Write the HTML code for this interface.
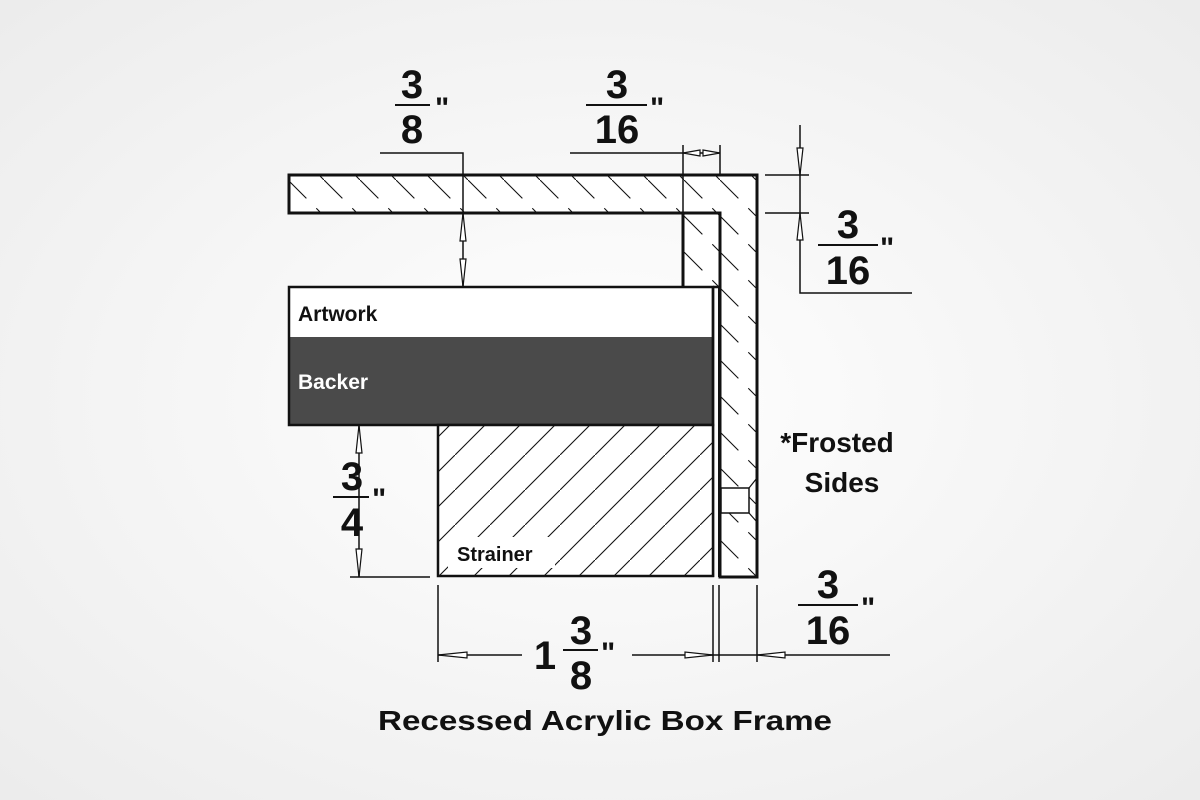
<!DOCTYPE html>
<html><head><meta charset="utf-8"><style>
html,body{margin:0;padding:0;width:1200px;height:800px;overflow:hidden;background:#f6f6f6}
svg{display:block}
text{font-family:"Liberation Sans",sans-serif;font-weight:bold;fill:#111}
</style></head><body>
<svg width="1200" height="800" viewBox="0 0 1200 800" xmlns="http://www.w3.org/2000/svg">
<defs>
<radialGradient id="bg" cx="50%" cy="50%" r="70%">
<stop offset="0" stop-color="#ffffff"/><stop offset="1" stop-color="#ececec"/>
</radialGradient>
<pattern id="hBack" patternUnits="userSpaceOnUse" width="36" height="36">
<line x1="0" y1="0" x2="36" y2="36" stroke="#111" stroke-width="1.1" stroke-dasharray="26 14"/>
</pattern>
<pattern id="hFwd" patternUnits="userSpaceOnUse" width="35" height="35">
<line x1="0" y1="35" x2="35" y2="0" stroke="#111" stroke-width="1.1"/>
</pattern>
</defs>
<rect width="1200" height="800" fill="url(#bg)"/>

<rect x="289" y="175" width="468" height="38" fill="#fff"/>
<rect x="289" y="175" width="468" height="38" fill="url(#hBack)"/>
<rect x="720" y="175" width="37" height="402" fill="#fff"/>
<rect x="720" y="175" width="37" height="402" fill="url(#hBack)"/>
<rect x="683" y="213" width="37" height="74" fill="#fff"/>
<rect x="683" y="213" width="37" height="74" fill="url(#hBack)"/>
<g fill="none" stroke="#111" stroke-width="3">
<path d="M289 175 H757 V577 H720 V213 H289 Z"/>
<line x1="683" y1="213" x2="683" y2="287"/>
</g>
<rect x="721" y="488" width="28" height="25" fill="#fff" stroke="#111" stroke-width="1.5"/>
<path d="M749 488 L757 478 M749 513 L757 522" stroke="#111" stroke-width="1.2"/>

<rect x="289" y="287" width="424" height="50" fill="#fff"/>
<rect x="289" y="337" width="424" height="88" fill="#4a4a4a"/>
<rect x="289" y="287" width="424" height="138" fill="none" stroke="#111" stroke-width="2.5"/>
<line x1="713" y1="287" x2="720" y2="287" stroke="#111" stroke-width="2.5"/>
<line x1="713" y1="287" x2="713" y2="577" stroke="#111" stroke-width="2.5"/>
<line x1="719" y1="287" x2="719" y2="577" stroke="#111" stroke-width="2"/>
<text x="298" y="321" font-size="21">Artwork</text>
<text x="298" y="389" font-size="21" style="fill:#fff">Backer</text>

<rect x="438" y="425" width="275" height="151" fill="#fff"/>
<rect x="438" y="425" width="275" height="151" fill="url(#hFwd)"/>
<rect x="438" y="425" width="275" height="151" fill="none" stroke="#111" stroke-width="2.5"/>
<rect x="448" y="537" width="107" height="31" fill="#fff"/>
<text x="457" y="561" font-size="20">Strainer</text>

<g stroke="#111" stroke-width="1.5" fill="none">
<path d="M380 153 H463 V287"/>
<path d="M570 153 H720"/>
<line x1="683" y1="145" x2="683" y2="213"/>
<line x1="720" y1="145" x2="720" y2="175"/>
<line x1="765" y1="175" x2="809" y2="175"/>
<line x1="765" y1="213" x2="809" y2="213"/>
<path d="M800 125 V293 H912"/>
<line x1="350" y1="425" x2="430" y2="425"/>
<line x1="350" y1="577" x2="430" y2="577"/>
<line x1="359" y1="425" x2="359" y2="577"/>
<line x1="438" y1="585" x2="438" y2="662"/>
<line x1="713" y1="585" x2="713" y2="662"/>
<line x1="719" y1="585" x2="719" y2="662"/>
<line x1="757" y1="585" x2="757" y2="662"/>
<line x1="438" y1="655" x2="522" y2="655"/>
<line x1="632" y1="655" x2="890" y2="655"/>
</g>
<g fill="#fff" stroke="#111" stroke-width="1.2">
<path d="M463 213 L460 241 L466 241 Z"/>
<path d="M463 287 L460 259 L466 259 Z"/>
<path d="M359 425 L356 453 L362 453 Z"/>
<path d="M359 577 L356 549 L362 549 Z"/>
<path d="M800 175 L797 148 L803 148 Z"/>
<path d="M800 213 L797 240 L803 240 Z"/>
<path d="M438 655 L467 652 L467 658 Z"/>
<path d="M713 655 L685 652 L685 658 Z"/>
<path d="M757 655 L785 652 L785 658 Z"/>
<path d="M683 153 L700 150 L700 156 Z"/>
<path d="M720 153 L703 150 L703 156 Z"/>
</g>

<g font-size="40" text-anchor="middle">
<text x="412" y="98">3</text><text x="412" y="143">8</text>
<text x="617" y="98">3</text><text x="617" y="143">16</text>
<text x="848" y="238">3</text><text x="848" y="284">16</text>
<text x="352" y="490">3</text><text x="352" y="536">4</text>
<text x="581" y="644">3</text><text x="581" y="689">8</text>
<text x="545" y="669">1</text>
<text x="828" y="598">3</text><text x="828" y="644">16</text>
</g>
<g stroke="#111" stroke-width="2">
<line x1="395" y1="105" x2="430" y2="105"/>
<line x1="586" y1="105" x2="647" y2="105"/>
<line x1="818" y1="245" x2="878" y2="245"/>
<line x1="333" y1="497" x2="369" y2="497"/>
<line x1="563" y1="650" x2="598" y2="650"/>
<line x1="798" y1="605" x2="858" y2="605"/>
</g>
<g font-size="30">
<text x="435" y="118">"</text>
<text x="650" y="118">"</text>
<text x="880" y="258">"</text>
<text x="372" y="509">"</text>
<text x="601" y="663">"</text>
<text x="861" y="618">"</text>
</g>

<text x="837" y="452" font-size="28" text-anchor="middle">*Frosted</text>
<text x="842" y="492" font-size="28" text-anchor="middle">Sides</text>

<text x="378" y="730" font-size="28" textLength="454" lengthAdjust="spacingAndGlyphs">Recessed Acrylic Box Frame</text>
</svg>
</body></html>
